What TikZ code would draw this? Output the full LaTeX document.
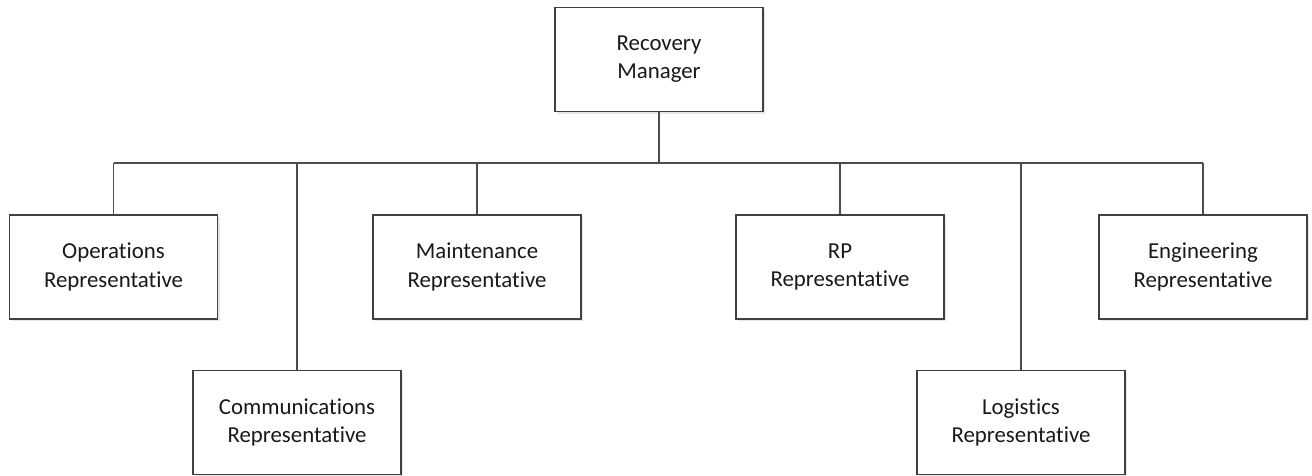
\documentclass[tikz,border=0pt]{standalone}
\usepackage{fontspec}
\setmainfont[RawFeature=-liga]{Carlito}
\usepackage{tikz}
\usetikzlibrary{shadows}

\begin{document}
\begin{tikzpicture}[x=0.02cm, y=-0.02cm,
        role/.style={draw=black!75, line width=1.1pt, fill=white, align=center,
            minimum width=4.16cm, minimum height=2.08cm, inner sep=0pt,
            font=\fontsize{13}{16}\selectfont, text=black!90,
            drop shadow={opacity=0.2, shadow xshift=1.2pt, shadow yshift=-1.2pt}},
        link/.style={draw=black!70, line width=1.1pt}]
            \useasboundingbox (0, 0) rectangle (1312, 476);

            \node[role] (mgr) at (659, 59.5) {Recovery\\Manager};

            \node[role] (ops) at (113.5, 267) {Operations\\Representative};
            \node[role] (com) at (297, 422.5) {Communications\\Representative};
            \node[role] (mnt) at (477, 267) {Maintenance\\Representative};
            \node[role] (rp) at (840, 267) {RP\\Representative};
            \node[role] (log) at (1021, 422.5) {Logistics\\Representative};
            \node[role] (eng) at (1203, 267) {Engineering\\Representative};

            \coordinate (bus) at (659, 163);

            \draw[link] (mgr.south) -- (bus);
            \draw[link] (ops.north |- bus) -- (eng.north |- bus);

            \foreach \c in {ops, com, mnt, rp, log, eng} {
                \draw[link] (\c.north |- bus) -- (\c.north);
            }
        \end{tikzpicture}
\end{document}
